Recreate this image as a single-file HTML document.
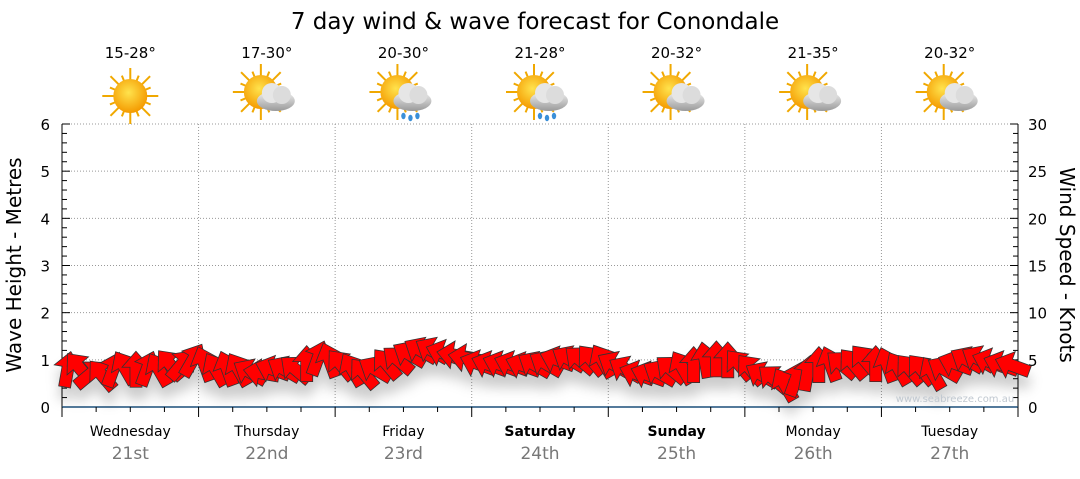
<!DOCTYPE html>
<html><head><meta charset="utf-8"><style>
body{margin:0;background:#fff;width:1080px;height:475px;overflow:hidden;font-family:"DejaVu Sans",sans-serif}
</style></head><body>
<svg id="c" width="1080" height="475" font-family="DejaVu Sans, Liberation Sans, sans-serif">
<defs>
<filter id="sh" x="-20%" y="-20%" width="140%" height="180%"><feDropShadow dx="0" dy="12" stdDeviation="6" flood-color="#000" flood-opacity="0.2"/></filter>
<radialGradient id="sun" cx="0.45" cy="0.4" r="0.6"><stop offset="0" stop-color="#ffe34d"/><stop offset="1" stop-color="#f49a00"/></radialGradient>
<linearGradient id="cl" x1="0" y1="0" x2="0" y2="1"><stop offset="0" stop-color="#f2f2f2"/><stop offset="1" stop-color="#9a9a9a"/></linearGradient>
</defs>
<text x="535" y="29" font-size="23" text-anchor="middle">7 day wind &amp; wave forecast for Conondale</text>
<g id="grid"></g>
<g id="axes"></g>
<g id="icons"></g>
<g id="arrows" filter="url(#sh)"></g>
<text x="955" y="402" font-size="10" fill="#c0c8d0" text-anchor="middle">www.seabreeze.com.au</text>
<text transform="translate(21,265) rotate(-90)" font-size="20" text-anchor="middle">Wave Height - Metres</text>
<text transform="translate(1060,265) rotate(90)" font-size="20" text-anchor="middle">Wind Speed - Knots</text>
</svg>
<script>
const days=["Wednesday","Thursday","Friday","Saturday","Sunday","Monday","Tuesday"];
const dates=["21st","22nd","23rd","24th","25th","26th","27th"];
const boldDays=[false,false,false,true,true,false,false];
const temps=["15-28°","17-30°","20-30°","21-28°","20-32°","21-35°","20-32°"];
const icons=["sun","cloud","rain","rain","cloud","cloud","cloud"];
const waveTicks=[0,1,2,3,4,5,6];
const windTicks=[0,5,10,15,20,25,30];
// wind speed (knots) every 2 hours
const windSpeed=[4,4.2,3.5,3.4,4,4.2,4,4.1,4,4.5,4.5,5,
4.6,4,4.1,4,3.7,3.6,4,4,4,4.6,5.2,5,
4.5,4,3.6,4,4.6,5,5.6,6,6,5.7,5.5,5.2,
4.6,4.5,4.5,4.5,4.4,4.5,4.6,5,5.1,5,5,4.9,
4.5,4,3.5,3.4,3.6,4,4.2,4.5,5,5.1,5,4.5,
4,3.4,3,2.4,3,3.6,4.5,4.6,4.5,4.6,5,4.6,
4.5,4.1,4,4,3.6,4,4.6,5,5.1,4.8,4.5,4.4];
// arrow heading in degrees (0 = up, clockwise)
const windDir=[10,320,50,320,20,330,0,20,330,320,40,30,
340,330,340,330,300,280,290,300,310,0,20,340,
320,330,320,300,320,310,300,300,300,290,280,280,
290,290,290,290,290,300,300,290,300,310,320,330,
300,300,290,290,300,310,330,0,350,0,0,320,
320,300,310,330,20,10,0,340,310,320,320,0,
340,330,320,320,330,300,290,300,300,290,290,290];
const X0=62,X1=1018,Y0=407,Y1=124;
const dayW=(X1-X0)/7;
const ns="http://www.w3.org/2000/svg";
function el(t,a,p){const e=document.createElementNS(ns,t);for(const k in a)e.setAttribute(k,a[k]);p.appendChild(e);return e;}
const xH=h=>X0+h/168*(X1-X0);
const yW=m=>Y0-m/6*(Y0-Y1);
const yK=k=>Y0-k/30*(Y0-Y1);
const G=document.getElementById('grid'),A=document.getElementById('axes'),I=document.getElementById('icons'),R=document.getElementById('arrows');
waveTicks.forEach(v=>{if(v>0){const l=el('line',{x1:X0,x2:X1,y1:yW(v),y2:yW(v),stroke:'#999','stroke-dasharray':'1,2'},G);

}
const t=el('text',{x:50,y:yW(v)+6,'font-size':15,'text-anchor':'end'},A);t.textContent=v;

});
windTicks.forEach(v=>{const t=el('text',{x:1028,y:yK(v)+6,'font-size':15},A);t.textContent=v;

});
el('line',{x1:X0,x2:X0,y1:Y1,y2:Y0,stroke:'#000'},A);
el('line',{x1:X1,x2:X1,y1:Y1,y2:Y0,stroke:'#000'},A);
for(let i=0;i<=30;i++){const y=yK(i),len=i%5==0?8:5;
el('line',{x1:X0,x2:X0+len,y1:y,y2:y,stroke:'#000'},A);
el('line',{x1:X1-len,x2:X1,y1:y,y2:y,stroke:'#000'},A);}
el('line',{x1:X0,x2:X1,y1:Y0,y2:Y0,stroke:'#1b4f7a','stroke-width':1.5},A);
for(let h=0;h<=168;h+=6){const x=xH(h);el('line',{x1:x,x2:x,y1:Y0,y2:Y0+(h%24==0?10:5),stroke:'#000'},A);}
days.forEach((d,i)=>{const cx=X0+dayW*(i+0.5);
if(i>0){const gl=el('line',{x1:X0+dayW*i,x2:X0+dayW*i,y1:Y1,y2:Y0,stroke:'#999','stroke-dasharray':'1,2'},G);

}
const t=el('text',{x:cx,y:436,'font-size':14,'text-anchor':'middle','font-weight':boldDays[i]?'bold':'normal'},A);t.textContent=d;


const t2=el('text',{x:cx,y:459,'font-size':17,'text-anchor':'middle',fill:'#777'},A);t2.textContent=dates[i];


const t3=el('text',{x:cx,y:58,'font-size':15,'text-anchor':'middle'},I);t3.textContent=temps[i];


const g=el('g',{transform:`translate(${cx},96)`},I);


const sx=icons[i]=='sun'?0:-6,sy=icons[i]=='sun'?0:-4;
for(let k=0;k<16;k++){const a=k*Math.PI/8;el('line',{x1:sx+Math.cos(a)*16,y1:sy+Math.sin(a)*16,x2:sx+Math.cos(a)*(k%2?22:28),y2:sy+Math.sin(a)*(k%2?22:28),stroke:'#f0a800','stroke-width':2},g);}
el('circle',{cx:sx,cy:sy,r:17,fill:'url(#sun)'},g);
if(icons[i]!='sun'){el('ellipse',{cx:9,cy:5,rx:19,ry:10,fill:'url(#cl)'},g);el('circle',{cx:5,cy:-3,r:10,fill:'#e6e6e6'},g);el('circle',{cx:15,cy:-1,r:9,fill:'#dcdcdc'},g);}
if(icons[i]=='rain'){[[0,20],[7,22],[14,20]].forEach(p=>el('ellipse',{cx:p[0],cy:p[1],rx:2.2,ry:3.2,fill:'#3a8fd8'},g));}
});
windSpeed.forEach((v,i)=>{const x=xH(i*2+1),y=yK(v);
const p=el('path',{d:'M0,-18 L14,-2 L6,-2 L6,18 L-6,18 L-6,-2 L-14,-2 Z',transform:`translate(${x},${y}) rotate(${windDir[i]})`,fill:'#ff0000',stroke:'#333','stroke-width':0.8},R);

});
</script>
</body></html>
